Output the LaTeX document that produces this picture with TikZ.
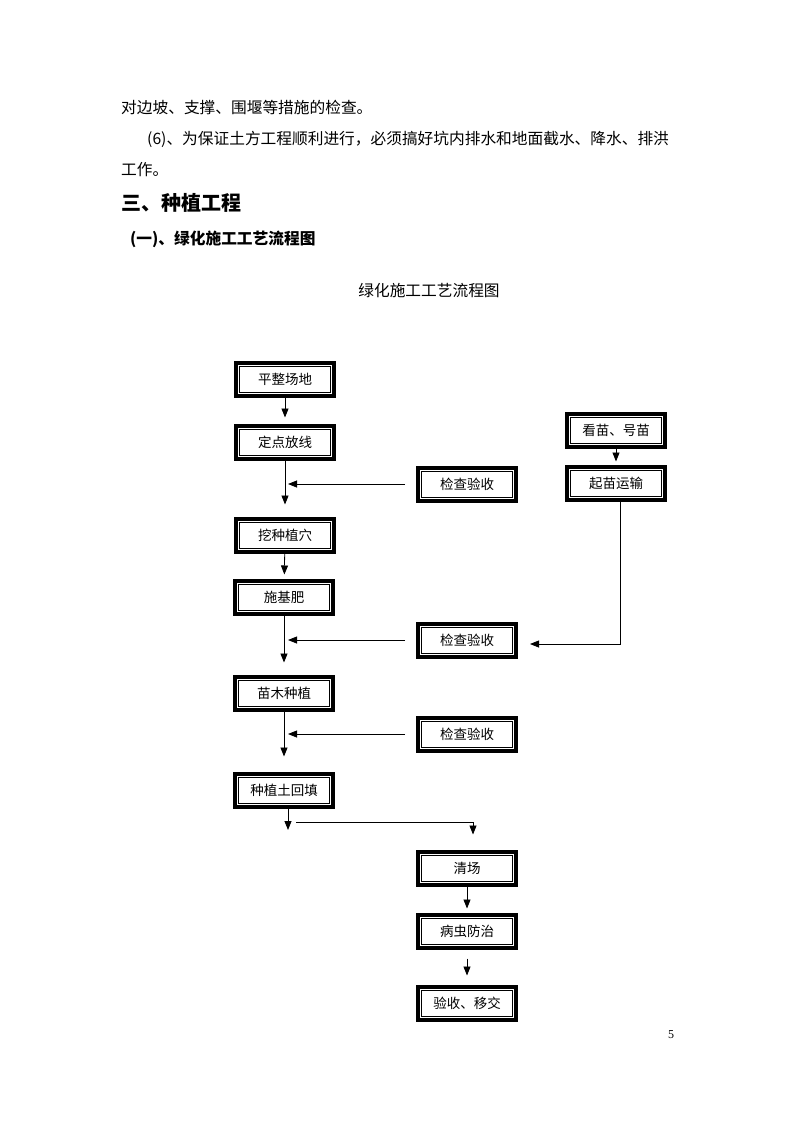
\documentclass[tikz,border=0pt]{standalone}
\usepackage{fontspec}
\setmainfont{Noto Sans CJK SC}
\newfontfamily\numfont{Liberation Serif}
\usetikzlibrary{
  arrows.meta,
  calc,
  positioning,
}
\tikzstyle{stepbox} = [
  draw,
  line width=4pt,
  minimum width=98pt,
  minimum height=33pt,
  inner sep=0pt,
  font=\fontsize{13.5}{16}\selectfont,
  path picture={\draw[line width=1pt] ([shift={(3.5pt,3.5pt)}]path picture bounding box.south west) rectangle ([shift={(-3.5pt,-3.5pt)}]path picture bounding box.north east);},
]
\tikzstyle{arrow} = [
  -{Triangle[width=7pt,length=9pt]},
  line width=0.8pt,
]
\tikzstyle{para} = [anchor=west, inner sep=0pt, font=\fontsize{15.7}{18}\selectfont]

\begin{document}
\begin{tikzpicture}[x=1pt,y=1pt]
  \useasboundingbox (0,0) rectangle (793,-1122);

  % text above the chart
  \node[para] (l1) at (121,-107) {对边坡、支撑、围堰等措施的检查。};
  \node[para] (l2) at (147,-139) {(6)、为保证土方工程顺利进行，必须搞好坑内排水和地面截水、降水、排洪};
  \node[para] (l3) at (121,-170) {工作。};
  \node[para,font=\fontsize{20}{24}\selectfont\bfseries] (h1) at (121,-203) {三、种植工程};
  \node[para,font=\fontsize{15.7}{18}\selectfont\bfseries] (h2) at (130,-239) {(一)、绿化施工工艺流程图};
  \node[para,anchor=center] (title) at (429,-291) {绿化施工工艺流程图};

  % left column
  \node[stepbox] (flat)  at (285,-379) {平整场地};
  \node[stepbox] (stake) at (285,-442) {定点放线};
  \node[stepbox] (dig)   at (285,-535) {挖种植穴};
  \node[stepbox] (fert)  at (284,-597) {施基肥};
  \node[stepbox] (plant) at (284,-693) {苗木种植};
  \node[stepbox] (fill)  at (284,-790) {种植土回填};

  % checks
  \node[stepbox] (chkA) at (467,-484) {检查验收};
  \node[stepbox] (chkB) at (467,-640) {检查验收};
  \node[stepbox] (chkC) at (467,-734) {检查验收};

  % seedlings
  \node[stepbox] (seed) at (616,-430) {看苗、号苗};
  \node[stepbox] (lift) at (616,-483) {起苗运输};

  % final column
  \node[stepbox] (clear) at (467,-868) {清场};
  \node[stepbox] (pest)  at (467,-931) {病虫防治};
  \node[stepbox] (hand)  at (467,-1003) {验收、移交};

  \node[inner sep=0pt,font=\numfont\fontsize{12}{14}\selectfont] (pageno) at (671,-1035) {5};

  \coordinate (split)  at (288,-830);
  \coordinate (branch) at (296,-822);
  \coordinate (turn)   at (473,-822);

  \draw[arrow,shorten >=6pt] (flat) -- (stake);
  \draw[arrow,shorten >=12pt] (stake) -- (dig);
  \draw[arrow,shorten >=4pt] (dig) -- (fert);
  \draw[arrow,shorten >=12pt] (fert) -- (plant);
  \draw[arrow,shorten >=15pt] (plant) -- (fill);

  \draw[arrow,shorten <=11pt] (chkA.west) -- ($(chkA.west -| stake.south)+(3,0)$);
  \draw[arrow,shorten <=11pt] (chkB.west) -- ($(chkB.west -| fert.south)+(4,0)$);
  \draw[arrow,shorten <=11pt] (chkC.west) -- ($(chkC.west -| plant.south)+(4,0)$);

  \draw[arrow,shorten >=3pt] (seed) -- (lift);
  \draw[arrow,shorten <=-2pt,shorten >=12pt] ([xshift=4pt]lift.south) |- ([yshift=-4pt]chkB.east);

  \draw[arrow,shorten <=-2pt] (fill.south -| split) -- (split);
  \draw[arrow,shorten >=15pt] (branch) -- (turn) -- (turn |- clear.north);
  \draw[arrow,shorten >=4pt] (clear) -- (pest);
  \draw[arrow,shorten <=9pt,shorten >=9pt] (pest) -- (hand);
\end{tikzpicture}
\end{document}
